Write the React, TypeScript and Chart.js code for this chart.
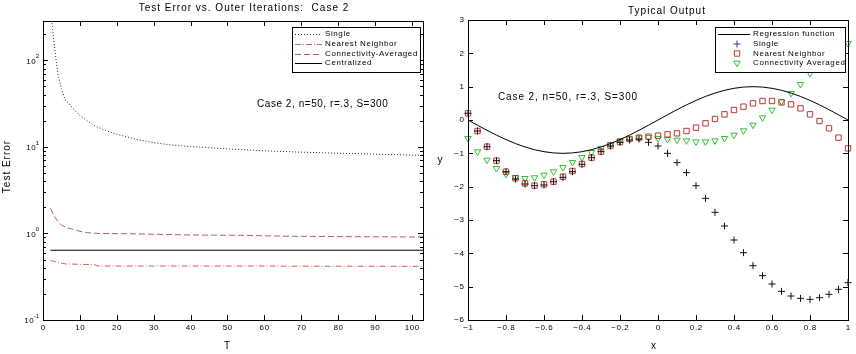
import React, { useEffect, useRef } from 'react';
import { Chart, registerables } from 'chart.js';
Chart.register(...registerables);

const FONT = '"Liberation Sans", Arial, sans-serif';

// ---------- Left panel: Test Error vs. Outer Iterations ----------
const leftTitle = 'Test Error vs. Outer Iterations:  Case 2';
const leftXLabel = 'T';
const leftYLabel = 'Test Error';
const annotation = 'Case 2, n=50, r=.3, S=300';

const T_single = [2, 3, 4, 5, 6, 7, 8, 10, 12, 14, 17, 20, 23, 26, 30, 35, 40, 50, 60, 70, 80, 90, 100, 103];
const err_single = [400, 160, 70, 47, 35, 32, 28, 23, 20, 17.5, 15.5, 14, 13, 12, 11.2, 10.5, 10.1, 9.5, 9.0, 8.7, 8.45, 8.25, 8.05, 8.0];
const T_nn = [2, 4, 6, 10, 14, 15, 30, 60, 80, 103];
const err_nn = [0.49, 0.46, 0.445, 0.44, 0.435, 0.42, 0.42, 0.42, 0.418, 0.417];
const T_ca = [2, 3, 4, 5, 6, 8, 10, 12, 15, 25, 40, 55, 65, 80, 103];
const err_ca = [1.95, 1.6, 1.38, 1.25, 1.19, 1.12, 1.06, 1.02, 1.0, 0.99, 0.96, 0.95, 0.93, 0.92, 0.91];
const T_central = [2, 103];
const err_central = [0.64, 0.64];

const leftSeriesNames = ['Single', 'Nearest Neighbor', 'Connectivity-Averaged', 'Centralized'];
const leftXTicks = [0, 10, 20, 30, 40, 50, 60, 70, 80, 90, 100];
const leftXTickLabels = ['0', '10', '20', '30', '40', '50', '60', '70', '80', '90', '100'];
const leftYDecades = [-1, 0, 1, 2];
const leftYExpLabels = ['-1', '0', '1', '2'];

// ---------- Right panel: Typical Output ----------
const rightTitle = 'Typical Output';
const rightXLabel = 'x';
const rightYLabel = 'y';
const xs = [-1, -0.95, -0.9, -0.85, -0.8, -0.75, -0.7, -0.65, -0.6, -0.55, -0.5, -0.45, -0.4, -0.35, -0.3, -0.25, -0.2, -0.15, -0.1, -0.05, 0, 0.05, 0.1, 0.15, 0.2, 0.25, 0.3, 0.35, 0.4, 0.45, 0.5, 0.55, 0.6, 0.65, 0.7, 0.75, 0.8, 0.85, 0.9, 0.95, 1];
const regression = [0, -0.156, -0.309, -0.454, -0.588, -0.707, -0.809, -0.891, -0.951, -0.988, -1, -0.988, -0.951, -0.891, -0.809, -0.707, -0.588, -0.454, -0.309, -0.156, 0, 0.156, 0.309, 0.454, 0.588, 0.707, 0.809, 0.891, 0.951, 0.988, 1, 0.988, 0.951, 0.891, 0.809, 0.707, 0.588, 0.454, 0.309, 0.156, 0];
const single = [0.2, -0.33, -0.8, -1.22, -1.55, -1.77, -1.92, -1.97, -1.95, -1.85, -1.72, -1.55, -1.33, -1.13, -0.95, -0.78, -0.67, -0.6, -0.57, -0.67, -0.78, -1.0, -1.28, -1.58, -1.97, -2.35, -2.77, -3.18, -3.6, -3.98, -4.37, -4.67, -4.92, -5.14, -5.28, -5.35, -5.38, -5.33, -5.23, -5.08, -4.88];
const nearest = [0.2, -0.33, -0.8, -1.22, -1.55, -1.75, -1.9, -1.97, -1.93, -1.85, -1.7, -1.53, -1.32, -1.13, -0.95, -0.77, -0.66, -0.57, -0.53, -0.5, -0.47, -0.43, -0.4, -0.33, -0.23, -0.1, 0.03, 0.17, 0.3, 0.4, 0.5, 0.57, 0.57, 0.53, 0.47, 0.35, 0.17, -0.03, -0.25, -0.53, -0.85];
const connAvg = [-0.55, -0.95, -1.2, -1.45, -1.63, -1.72, -1.75, -1.73, -1.65, -1.55, -1.42, -1.27, -1.12, -0.97, -0.85, -0.73, -0.62, -0.57, -0.53, -0.52, -0.55, -0.58, -0.6, -0.62, -0.65, -0.65, -0.62, -0.55, -0.45, -0.32, -0.15, 0.07, 0.3, 0.55, 0.8, 1.07, 1.4, 1.7, 2.0, 2.2, 2.3];
const rightSeriesNames = ['Regression function', 'Single', 'Nearest Neighbor', 'Connectivity Averaged'];
const rightXTicks = [-1, -0.8, -0.6, -0.4, -0.2, 0, 0.2, 0.4, 0.6, 0.8, 1];
const rightXTickLabels = ['\u22121', '\u22120.8', '\u22120.6', '\u22120.4', '\u22120.2', '0', '0.2', '0.4', '0.6', '0.8', '1'];
const rightYTicks = [-6, -5, -4, -3, -2, -1, 0, 1, 2, 3];
const rightYTickLabels = ['\u22126', '\u22125', '\u22124', '\u22123', '\u22122', '\u22121', '0', '1', '2', '3'];

// ---------- helpers ----------
function txt(ctx: any, s: string, x: number, y: number, size: number, align: string = 'left', spacing = 0, rotate = 0) {
  ctx.save();
  ctx.font = `${size}px ${FONT}`;
  ctx.letterSpacing = `${spacing}px`;
  ctx.fillStyle = '#000';
  ctx.textAlign = align;
  ctx.textBaseline = 'middle';
  ctx.translate(x, y);
  if (rotate) ctx.rotate(rotate);
  let dx = 0;
  if (align === 'right') dx = spacing;
  if (align === 'center') dx = spacing / 2;
  ctx.fillText(s, dx, 0);
  ctx.restore();
}

function drawBox(ctx: any, a: any) {
  ctx.save();
  ctx.strokeStyle = '#000';
  ctx.lineWidth = 1;
  ctx.strokeRect(Math.round(a.left) + 0.5, Math.round(a.top) + 0.5, Math.round(a.right - a.left), Math.round(a.bottom - a.top));
  ctx.restore();
}

function hTick(ctx: any, a: any, px: number, len: number) {
  const x = Math.round(px) + 0.5;
  ctx.beginPath();
  ctx.moveTo(x, a.bottom); ctx.lineTo(x, a.bottom - len);
  ctx.moveTo(x, a.top); ctx.lineTo(x, a.top + len);
  ctx.stroke();
}
function vTick(ctx: any, a: any, py: number, len: number) {
  const y = Math.round(py) + 0.5;
  ctx.beginPath();
  ctx.moveTo(a.left, y); ctx.lineTo(a.left + len, y);
  ctx.moveTo(a.right, y); ctx.lineTo(a.right - len, y);
  ctx.stroke();
}

function drawMarker(ctx: any, style: string, x: number, y: number, r: number, color: string) {
  ctx.save();
  ctx.strokeStyle = color;
  ctx.lineWidth = 1;
  ctx.beginPath();
  if (style === 'cross') {
    ctx.moveTo(x - r, y); ctx.lineTo(x + r, y);
    ctx.moveTo(x, y - r); ctx.lineTo(x, y + r);
  } else if (style === 'rect') {
    const s = r * Math.SQRT1_2;
    ctx.rect(x - s, y - s, 2 * s, 2 * s);
  } else {
    ctx.moveTo(x, y + r);
    ctx.lineTo(x - r * 0.866, y - r * 0.5);
    ctx.lineTo(x + r * 0.866, y - r * 0.5);
    ctx.closePath();
  }
  ctx.stroke();
  ctx.restore();
}

const leftDecor = {
  id: 'leftDecor',
  afterDraw(chart: any) {
    const ctx = chart.ctx;
    const a = chart.chartArea;
    const xs_ = chart.scales.x;
    const ys_ = chart.scales.y;
    drawBox(ctx, a);
    ctx.save();
    ctx.strokeStyle = '#000';
    ctx.lineWidth = 1;
    leftXTicks.forEach((v) => hTick(ctx, a, xs_.getPixelForValue(v), 5));
    leftYDecades.forEach((d) => {
      vTick(ctx, a, ys_.getPixelForValue(Math.pow(10, d)), 5);
      for (let m = 2; m <= 9; m++) {
        const v = m * Math.pow(10, d);
        if (v <= ys_.max) vTick(ctx, a, ys_.getPixelForValue(v), 3);
      }
    });
    ctx.restore();
    leftXTicks.forEach((v, i) => txt(ctx, leftXTickLabels[i], xs_.getPixelForValue(v), 328, 8, 'center', 0.6));
    leftYDecades.forEach((d, i) => {
      const py = ys_.getPixelForValue(Math.pow(10, d));
      ctx.save();
      ctx.font = `6px ${FONT}`;
      const we = ctx.measureText(leftYExpLabels[i]).width;
      ctx.restore();
      const xr = 39;
      txt(ctx, leftYExpLabels[i], xr - we, py - 4, 6, 'left', 0);
      txt(ctx, '10', xr - we, py + 1, 8, 'right', 0.5);
    });
    txt(ctx, leftTitle, 243.5, 8.5, 10, 'center', 1);
    txt(ctx, leftXLabel, 227, 346.5, 10, 'center', 1);
    txt(ctx, leftYLabel, 7.5, 167, 10, 'center', 1, -Math.PI / 2);
    txt(ctx, annotation, 257, 104, 10, 'left', 0.55);
    const bx = 292, by = 27, bw = 128, bh = 45;
    ctx.save();
    ctx.fillStyle = '#fff';
    ctx.fillRect(bx, by, bw, bh);
    ctx.strokeStyle = '#000';
    ctx.lineWidth = 1;
    ctx.strokeRect(bx + 0.5, by + 0.5, bw, bh);
    const rows = [34, 44, 53.5, 63];
    chart.data.datasets.forEach((ds: any, i: number) => {
      ctx.save();
      ctx.strokeStyle = ds.borderColor;
      ctx.lineWidth = 1;
      ctx.setLineDash(ds.borderDash || []);
      ctx.beginPath();
      ctx.moveTo(295, Math.round(rows[i]) + 0.5);
      ctx.lineTo(322, Math.round(rows[i]) + 0.5);
      ctx.stroke();
      ctx.restore();
      txt(ctx, ds.label, 325, rows[i], 8, 'left', 0.6);
    });
    ctx.restore();
  },
};

const rightDecor = {
  id: 'rightDecor',
  afterDraw(chart: any) {
    const ctx = chart.ctx;
    const a = chart.chartArea;
    const xs_ = chart.scales.x;
    const ys_ = chart.scales.y;
    drawBox(ctx, a);
    ctx.save();
    ctx.strokeStyle = '#000';
    ctx.lineWidth = 1;
    rightXTicks.forEach((v) => hTick(ctx, a, xs_.getPixelForValue(v), 5));
    rightYTicks.forEach((v) => vTick(ctx, a, ys_.getPixelForValue(v), 5));
    ctx.restore();
    rightXTicks.forEach((v, i) => txt(ctx, rightXTickLabels[i], xs_.getPixelForValue(v), 328, 8, 'center', 0.6));
    rightYTicks.forEach((v, i) => txt(ctx, rightYTickLabels[i], 36, ys_.getPixelForValue(v), 8, 'right', 0.6));
    txt(ctx, rightTitle, 238.5, 11, 10, 'center', 1);
    txt(ctx, rightXLabel, 225.5, 346, 10, 'center', 1);
    txt(ctx, rightYLabel, 12, 160, 10, 'center', 0);
    txt(ctx, annotation, 70, 97.5, 10, 'left', 0.9);
    const bx = 287, by = 27, bw = 130, bh = 45;
    ctx.save();
    ctx.fillStyle = '#fff';
    ctx.fillRect(bx, by, bw, bh);
    ctx.strokeStyle = '#000';
    ctx.lineWidth = 1;
    ctx.strokeRect(bx + 0.5, by + 0.5, bw, bh);
    const rows = [34, 44, 53.5, 63];
    chart.data.datasets.forEach((ds: any, i: number) => {
      if (i === 0) {
        ctx.save();
        ctx.strokeStyle = ds.borderColor;
        ctx.lineWidth = 1;
        ctx.beginPath();
        ctx.moveTo(290, Math.round(rows[i]) + 0.5);
        ctx.lineTo(322, Math.round(rows[i]) + 0.5);
        ctx.stroke();
        ctx.restore();
      } else {
        drawMarker(ctx, ds.legendMarker, 309, rows[i], ds.pointRadius, ds.legendColor || ds.borderColor);
      }
      txt(ctx, ds.label, 325, rows[i], 8, 'left', 0.6);
    });
    ctx.restore();
  },
};

const hiddenScale = (size: number, isY: boolean) => ({
  ticks: { display: false },
  grid: { display: false, drawTicks: false },
  border: { display: false },
  afterFit: (s: any) => {
    if (isY) s.width = size; else s.height = size;
  },
});

export default function App() {
  const leftRef = useRef<HTMLCanvasElement>(null);
  const rightRef = useRef<HTMLCanvasElement>(null);

  useEffect(() => {
    const pts = (xa: number[], ya: number[]) => xa.map((x, i) => ({ x, y: ya[i] }));
    const left = new Chart(leftRef.current as HTMLCanvasElement, {
      type: 'scatter',
      data: {
        datasets: [
          { label: leftSeriesNames[0], data: pts(T_single, err_single), showLine: true, pointRadius: 0, borderColor: '#222', borderWidth: 1, borderDash: [1, 2] },
          { label: leftSeriesNames[1], data: pts(T_nn, err_nn), showLine: true, pointRadius: 0, borderColor: '#c86464', borderWidth: 1, borderDash: [6, 2, 1, 2] },
          { label: leftSeriesNames[2], data: pts(T_ca, err_ca), showLine: true, pointRadius: 0, borderColor: '#b45a8c', borderWidth: 1, borderDash: [6, 3] },
          { label: leftSeriesNames[3], data: pts(T_central, err_central), showLine: true, pointRadius: 0, borderColor: '#000', borderWidth: 1 },
        ],
      } as any,
      options: {
        animation: false,
        responsive: false,
        devicePixelRatio: 1,
        events: [],
        layout: { padding: { top: 21, right: 5, left: 0, bottom: 0 } },
        plugins: { legend: { display: false }, tooltip: { enabled: false }, title: { display: false } },
        scales: {
          x: { type: 'linear', min: 0, max: 103, ...hiddenScale(34, false) },
          y: { type: 'logarithmic', min: 0.1, max: 285, ...hiddenScale(43, true) },
        },
      } as any,
      plugins: [leftDecor],
    });

    const right = new Chart(rightRef.current as HTMLCanvasElement, {
      type: 'scatter',
      data: {
        datasets: [
          { label: rightSeriesNames[0], data: pts(xs, regression), showLine: true, pointRadius: 0, borderColor: '#000', borderWidth: 1 },
          { label: rightSeriesNames[1], data: pts(xs, single), pointStyle: 'cross', legendMarker: 'cross', legendColor: '#2a3f88', pointRadius: 3.5, borderColor: '#111', pointBorderWidth: 1, backgroundColor: 'transparent', clip: false },
          { label: rightSeriesNames[2], data: pts(xs, nearest), pointStyle: 'rect', legendMarker: 'rect', pointRadius: 3.8, borderColor: '#b83838', pointBorderWidth: 1, backgroundColor: 'transparent', clip: false },
          { label: rightSeriesNames[3], data: pts(xs, connAvg), pointStyle: 'triangle', pointRotation: 180, legendMarker: 'tri', pointRadius: 3.7, borderColor: '#33c033', pointBorderWidth: 1, backgroundColor: 'transparent', clip: false },
        ],
      } as any,
      options: {
        animation: false,
        responsive: false,
        devicePixelRatio: 1,
        events: [],
        layout: { padding: { top: 20, right: 8, left: 0, bottom: 0 } },
        plugins: { legend: { display: false }, tooltip: { enabled: false }, title: { display: false } },
        scales: {
          x: { type: 'linear', min: -1, max: 1, ...hiddenScale(34, false) },
          y: { type: 'linear', min: -6, max: 3, ...hiddenScale(40, true) },
        },
      } as any,
      plugins: [rightDecor],
    });

    return () => {
      left.destroy();
      right.destroy();
    };
  }, []);

  return (
    <div style={{ position: 'fixed', left: 0, top: 0, width: 856, height: 354, background: '#fff' }}>
      <canvas ref={leftRef} width={428} height={354} style={{ position: 'absolute', left: 0, top: 0, width: 428, height: 354 }} />
      <canvas ref={rightRef} width={428} height={354} style={{ position: 'absolute', left: 428, top: 0, width: 428, height: 354 }} />
    </div>
  );
}
